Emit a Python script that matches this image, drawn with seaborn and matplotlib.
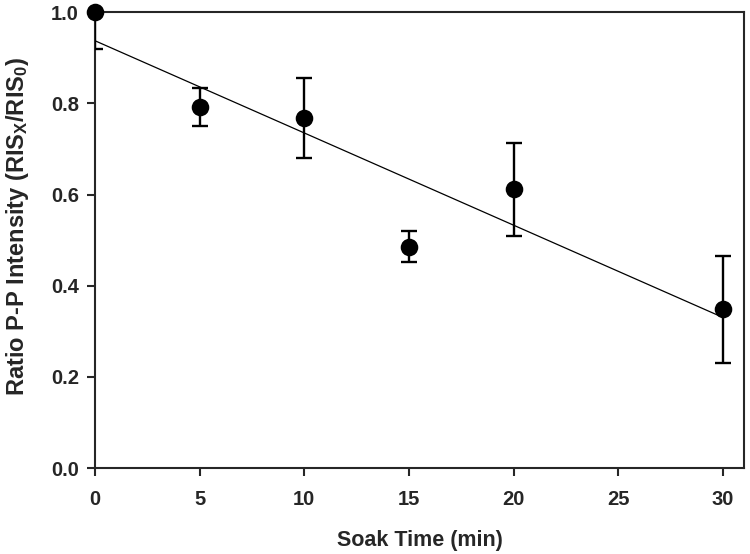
import matplotlib
matplotlib.use("Agg")
import matplotlib.pyplot as plt
import seaborn as sns
import pandas as pd

soak_time = [0, 5, 10, 15, 20, 30]
ratio = [1.0, 0.792, 0.768, 0.485, 0.612, 0.348]
ratio_err = [0.08, 0.042, 0.088, 0.034, 0.102, 0.118]
x_ticks = [0, 5, 10, 15, 20, 25, 30]
y_ticks = [0.0, 0.2, 0.4, 0.6, 0.8, 1.0]

sns.set_style("ticks")
plt.rcParams['font.family'] = ['Liberation Sans', 'DejaVu Sans']
plt.rcParams['mathtext.fontset'] = 'custom'
plt.rcParams['mathtext.rm'] = 'Liberation Sans:bold'
plt.rcParams['mathtext.it'] = 'Liberation Sans:bold'
plt.rcParams['mathtext.bf'] = 'Liberation Sans:bold'
plt.rcParams['mathtext.default'] = 'regular'

df = pd.DataFrame({"t": soak_time, "r": ratio, "e": ratio_err})

fig = plt.figure(figsize=(7.5, 5.54), dpi=100)
ax = fig.add_axes([0.1267, 0.1552, 0.992 - 0.1267, 0.978 - 0.1552])

sns.regplot(data=df, x="t", y="r", scatter=False, ci=None, ax=ax,
            line_kws=dict(color="black", lw=0.9, zorder=2))
ax.errorbar(df["t"], df["r"], yerr=df["e"], fmt="none", ecolor="black",
            elinewidth=1.7, capsize=5.5, capthick=1.7, zorder=3)
sns.scatterplot(data=df, x="t", y="r", ax=ax, color="black", s=160,
                edgecolor="black", linewidth=0, zorder=4, clip_on=False)

ax.set_xlim(0, 31)
ax.set_ylim(0, 1.0)
ax.set_xticks(x_ticks)
ax.set_yticks(y_ticks)
ax.set_yticklabels([f"{v:.1f}" for v in y_ticks])
ax.tick_params(direction="out", length=5.5, width=1.5, labelsize=14.5)
ax.tick_params(axis="x", pad=10)
ax.tick_params(axis="y", pad=6)
for lab in ax.get_xticklabels() + ax.get_yticklabels():
    lab.set_fontweight("bold")
for sp in ax.spines.values():
    sp.set_linewidth(1.5)
    sp.set_visible(True)

ax.set_xlabel("Soak Time (min)", fontsize=15.5, fontweight="bold")
ax.xaxis.set_label_coords(0.5, -0.137)
ax.set_ylabel("Ratio P-P Intensity (RIS$_{X}$/RIS$_{0}$)", fontsize=17,
              fontweight="bold")
ax.yaxis.set_label_coords(-0.099, 0.529)

fig.savefig("out.png", dpi=100)
